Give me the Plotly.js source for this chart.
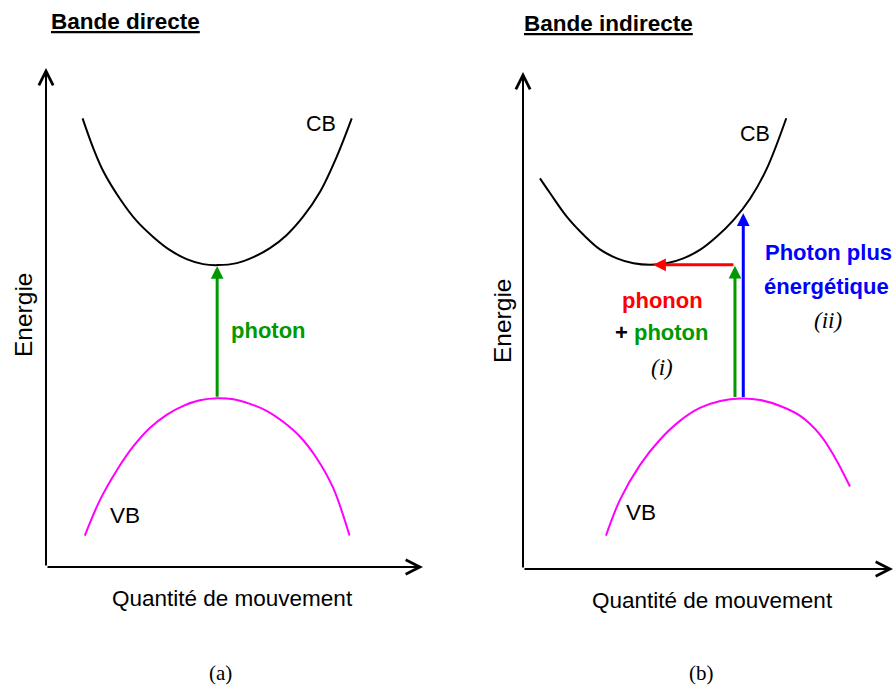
<!DOCTYPE html>
<html><head><meta charset="utf-8">
<script src="https://cdn.plot.ly/plotly-3.0.1.min.js"></script>
<style>html,body{margin:0;padding:0;background:#fff}</style>
</head><body>
<div id="chart" style="width:893px;height:686px"></div>
<script>
// ---------- Panel (a) : bande directe ----------
const cbA_k = [0.97, 1.25, 1.52, 1.96, 2.41, 2.85, 3.29, 3.73, 4.17, 4.55, 5.06, 5.50, 5.94, 6.38, 6.82, 7.27, 7.71, 8.11];
const cbA_E = [8.99, 8.40, 7.93, 7.38, 6.93, 6.61, 6.35, 6.17, 6.07, 6.05, 6.09, 6.21, 6.39, 6.65, 7.02, 7.52, 8.22, 8.99];
const vbA_k = [1.03, 1.43, 1.88, 2.32, 2.76, 3.20, 3.64, 4.08, 4.54, 4.97, 5.41, 5.85, 6.29, 6.74, 7.18, 7.62, 8.05];
const vbA_E = [0.63, 1.34, 1.94, 2.42, 2.79, 3.05, 3.23, 3.34, 3.38, 3.36, 3.27, 3.13, 2.91, 2.61, 2.18, 1.58, 0.63];
const photonA_k = 4.54;
const photonA_E = [3.38, 6.03];
const rangeA_k = [0, 10];
const rangeA_E = [0, 10];

// ---------- Panel (b) : bande indirecte ----------
const cbB_k = [0.45, 0.72, 1.16, 1.61, 2.04, 2.49, 2.93, 3.37, 3.81, 4.25, 4.69, 5.14, 5.58, 6.02, 6.46, 6.98];
const cbB_E = [7.86, 7.56, 7.09, 6.72, 6.43, 6.25, 6.15, 6.12, 6.15, 6.25, 6.42, 6.69, 7.02, 7.45, 8.05, 9.07];
const vbB_k = [2.20, 2.57, 3.10, 3.63, 4.16, 4.69, 5.23, 5.76, 6.29, 6.82, 7.35, 7.88, 8.28, 8.67];
const vbB_E = [0.67, 1.39, 2.09, 2.60, 2.98, 3.24, 3.38, 3.43, 3.40, 3.28, 3.08, 2.70, 2.23, 1.66];
const photonB_k = 5.62;          // (i) photon, vertical
const photonB_E = [3.43, 6.10];
const phononB_k = [5.62, 3.45];  // (i) phonon, horizontal
const phononB_E = 6.12;
const photonPlusB_k = 5.84;      // (ii) photon plus énergétique
const photonPlusB_E = [3.43, 7.16];
const rangeB_k = [0, 9.81];
const rangeB_E = [0, 10];

const FONT = 'Liberation Sans, Arial, sans-serif';
const SERIF = 'Liberation Serif, Times New Roman, serif';
const GREEN = 'rgb(0,153,0)';

const traces = [
  {x: cbA_k, y: cbA_E, xaxis: 'x', yaxis: 'y', mode: 'lines', line: {color: '#000', width: 2, shape: 'spline'}, cliponaxis: false, hoverinfo: 'skip'},
  {x: vbA_k, y: vbA_E, xaxis: 'x', yaxis: 'y', mode: 'lines', line: {color: '#ff00ff', width: 2, shape: 'spline'}, cliponaxis: false, hoverinfo: 'skip'},
  {x: cbB_k, y: cbB_E, xaxis: 'x2', yaxis: 'y2', mode: 'lines', line: {color: '#000', width: 2, shape: 'spline'}, cliponaxis: false, hoverinfo: 'skip'},
  {x: vbB_k, y: vbB_E, xaxis: 'x2', yaxis: 'y2', mode: 'lines', line: {color: '#ff00ff', width: 2, shape: 'spline'}, cliponaxis: false, hoverinfo: 'skip'}
];

function arrow(xr, yr, x0, y0, x1, y1, color, width, head, size) {
  return {xref: xr, yref: yr, axref: xr, ayref: yr, x: x1, y: y1, ax: x0, ay: y0,
    text: '', showarrow: true, arrowhead: head, arrowsize: size, arrowwidth: width, arrowcolor: color, standoff: 0};
}
function label(xr, yr, x, y, text, size, color, family, extra) {
  return Object.assign({xref: xr, yref: yr, x: x, y: y, text: text, showarrow: false,
    xanchor: 'center', yanchor: 'middle', font: {family: family || FONT, size: size, color: color || '#000'}}, extra || {});
}

const annotations = [
  // axes with open arrowheads
  arrow('x', 'y', 0, 0, rangeA_k[1], 0, '#000', 2, 5, 1.4),
  arrow('x', 'y', 0, 0, 0, rangeA_E[1], '#000', 2, 5, 1.4),
  arrow('x2', 'y2', 0, 0, rangeB_k[1], 0, '#000', 2, 5, 1.4),
  arrow('x2', 'y2', 0, 0, 0, rangeB_E[1], '#000', 2, 5, 1.4),
  // transitions
  arrow('x', 'y', photonA_k, photonA_E[0], photonA_k, photonA_E[1], GREEN, 3, 2, 0.85),
  arrow('x2', 'y2', photonB_k, photonB_E[0], photonB_k, photonB_E[1], GREEN, 3, 2, 0.85),
  arrow('x2', 'y2', phononB_k[0], phononB_E, phononB_k[1], phononB_E, '#ff0000', 3, 2, 0.85),
  arrow('x2', 'y2', photonPlusB_k, photonPlusB_E[0], photonPlusB_k, photonPlusB_E[1], '#0000ff', 3, 2, 0.85),
  // panel (a) labels
  label('x', 'y', 7.29, 8.88, 'CB', 21.5),
  label('x', 'y', 2.10, 1.04, 'VB', 22.5),
  label('x', 'y', 5.89, 4.73, '<b>photon</b>', 22),
  // panel (b) labels
  label('x2', 'y2', 6.15, 8.75, 'CB', 21.5),
  label('x2', 'y2', 3.13, 1.13, 'VB', 22.5),
  label('x2', 'y2', 3.69, 5.41, '<b>phonon</b>', 22, '#ff0000'),
  label('x2', 'y2', 3.69, 4.75, '<b>+ <span style="color:' + GREEN + '">photon</span></b>', 22, '#000'),
  label('x2', 'y2', 3.69, 4.06, '<i>(i)</i>', 23, '#000', SERIF),
  label('x2', 'y2', 8.09, 6.36, '<b>Photon plus</b>', 22, '#0000ff'),
  label('x2', 'y2', 8.04, 5.69, '<b>énergétique</b>', 22, '#0000ff'),
  label('x2', 'y2', 8.09, 5.01, '<i>(ii)</i>', 23, '#000', SERIF),
  // titles and axis titles (paper coordinates)
  label('paper', 'paper', 126 / 893, 1 - 22 / 686, '<b><u>Bande directe</u></b>', 22.5),
  label('paper', 'paper', 608 / 893, 1 - 24 / 686, '<b><u>Bande indirecte</u></b>', 22.5),
  label('paper', 'paper', 232 / 893, 1 - 598 / 686, 'Quantité de mouvement', 22.5),
  label('paper', 'paper', 712 / 893, 1 - 600 / 686, 'Quantité de mouvement', 22.5),
  label('paper', 'paper', 24 / 893, 1 - 315 / 686, 'Energie', 24.5, '#000', FONT, {textangle: -90}),
  label('paper', 'paper', 502 / 893, 1 - 321 / 686, 'Energie', 24.5, '#000', FONT, {textangle: -90}),
  label('paper', 'paper', 220 / 893, 1 - 673 / 686, '(a)', 21, '#000', SERIF),
  label('paper', 'paper', 701 / 893, 1 - 673 / 686, '(b)', 21, '#000', SERIF)
];
// green text colour for the panel (a) photon label
annotations[10].font.color = GREEN;

const hidden = {visible: false, fixedrange: true, showgrid: false, zeroline: false};
const layout = {
  width: 893, height: 686,
  margin: {l: 0, r: 0, t: 0, b: 0, pad: 0},
  paper_bgcolor: '#fff', plot_bgcolor: 'rgba(0,0,0,0)',
  showlegend: false,
  font: {family: FONT, color: '#000'},
  xaxis: Object.assign({domain: [46 / 893, 423 / 893], range: rangeA_k, anchor: 'y'}, hidden),
  yaxis: Object.assign({domain: [1 - 567 / 686, 1 - 68 / 686], range: rangeA_E, anchor: 'x'}, hidden),
  xaxis2: Object.assign({domain: [523 / 893, 1], range: rangeB_k, anchor: 'y2'}, hidden),
  yaxis2: Object.assign({domain: [1 - 569 / 686, 1 - 72 / 686], range: rangeB_E, anchor: 'x2'}, hidden),
  annotations: annotations
};

Plotly.newPlot('chart', traces, layout, {staticPlot: true, displayModeBar: false});
</script>
</body></html>
